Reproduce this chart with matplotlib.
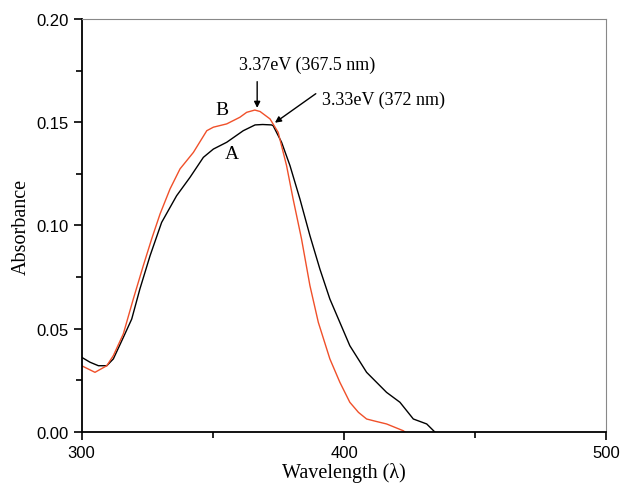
import matplotlib.pyplot as plt
from matplotlib.ticker import MultipleLocator

# curve A (black)
wl_a = [300, 303.2, 306.4, 309.6, 312.1, 315.9, 319.1, 322.2, 326.1, 330.5, 336.2, 341.3,
        346.4, 350.2, 355.3, 361.6, 366.1, 369, 372.4, 373.0, 376.2, 379.4, 383.2, 387.0,
        390.8, 394.6, 398.4, 402.2, 408.6, 416.2, 421.3, 426.4, 431.5, 434.6]
abs_a = [0.0362, 0.0338, 0.0321, 0.0321, 0.0354, 0.0458, 0.0547, 0.0692, 0.0854, 0.1015,
         0.1144, 0.1233, 0.133, 0.137, 0.1403, 0.1459, 0.1487, 0.1489, 0.1487, 0.1483,
         0.1403, 0.129, 0.1128, 0.0951, 0.0789, 0.0644, 0.0531, 0.0418, 0.0289, 0.0192,
         0.0144, 0.0063, 0.0039, 0.0]

# curve B (red)
wl_b = [300, 305.1, 309.6, 312.1, 315.9, 319.7, 323.5, 326.7, 329.9, 333.7, 337.5, 342.6,
        347.7, 350.2, 355.3, 360.3, 362.9, 366, 368.0, 371.8, 374.9, 378.1, 380.6, 383.8,
        387.0, 390.2, 394.6, 398.4, 402.2, 405.5, 408.6, 412, 416.2, 422.6, 423.2]
abs_b = [0.0321, 0.0289, 0.0321, 0.037, 0.0475, 0.0644, 0.0805, 0.0935, 0.1056, 0.1177,
         0.1274, 0.1354, 0.1459, 0.1476, 0.1492, 0.1524, 0.1548, 0.1559, 0.1552, 0.1516,
         0.1451, 0.129, 0.1128, 0.0935, 0.0709, 0.0531, 0.0354, 0.0241, 0.0144, 0.0095,
         0.0063, 0.0052, 0.0039, 0.0006, 0.0]

fig = plt.figure(figsize=(6.2, 4.85), dpi=100)
ax = fig.add_axes([0.1316, 0.1072, 0.8466, 0.8516])

ax.plot(wl_a, abs_a, color="black", lw=1.0)
ax.plot(wl_b, abs_b, color="#f0502a", lw=1.0)

ax.set_xlim(300, 500)
ax.set_ylim(0, 0.20)
ax.set_xticks([300, 400, 500])
ax.xaxis.set_minor_locator(MultipleLocator(50))
ax.set_yticks([0, 0.05, 0.10, 0.15, 0.20])
ax.set_yticklabels(["0.00", "0.05", "0.10", "0.15", "0.20"])
ax.yaxis.set_minor_locator(MultipleLocator(0.025))
ax.tick_params(which="major", length=6, width=1.2, labelsize=12)
ax.tick_params(which="minor", length=4, width=1.2)
for lab in ax.get_xticklabels() + ax.get_yticklabels():
    lab.set_family("Liberation Sans")

ax.spines["left"].set_linewidth(1.3)
ax.spines["bottom"].set_linewidth(1.3)
ax.spines["top"].set_color("#888888")
ax.spines["right"].set_color("#888888")

ax.set_xlabel("Wavelength (λ)", family="Liberation Serif", fontsize=14.5, labelpad=1.5)
ax.set_ylabel("Absorbance", family="Liberation Serif", fontsize=14.5, labelpad=4)

ax.annotate("", xy=(366.9, 0.1556), xytext=(366.9, 0.171),
            arrowprops=dict(arrowstyle="-|>", color="black", lw=1, mutation_scale=9))
ax.text(386.0, 0.178, "3.37eV (367.5 nm)", ha="center", va="center",
        family="Liberation Serif", fontsize=13)
ax.annotate("", xy=(372.8, 0.149), xytext=(390.1, 0.1646),
            arrowprops=dict(arrowstyle="-|>", color="black", lw=1, mutation_scale=9))
ax.text(391.5, 0.161, "3.33eV (372 nm)", ha="left", va="center",
        family="Liberation Serif", fontsize=13)
ax.text(353.4, 0.156, "B", ha="center", va="center", family="Liberation Serif", fontsize=14)
ax.text(357.2, 0.135, "A", ha="center", va="center", family="Liberation Serif", fontsize=14)

fig.savefig("out.png", dpi=100)
